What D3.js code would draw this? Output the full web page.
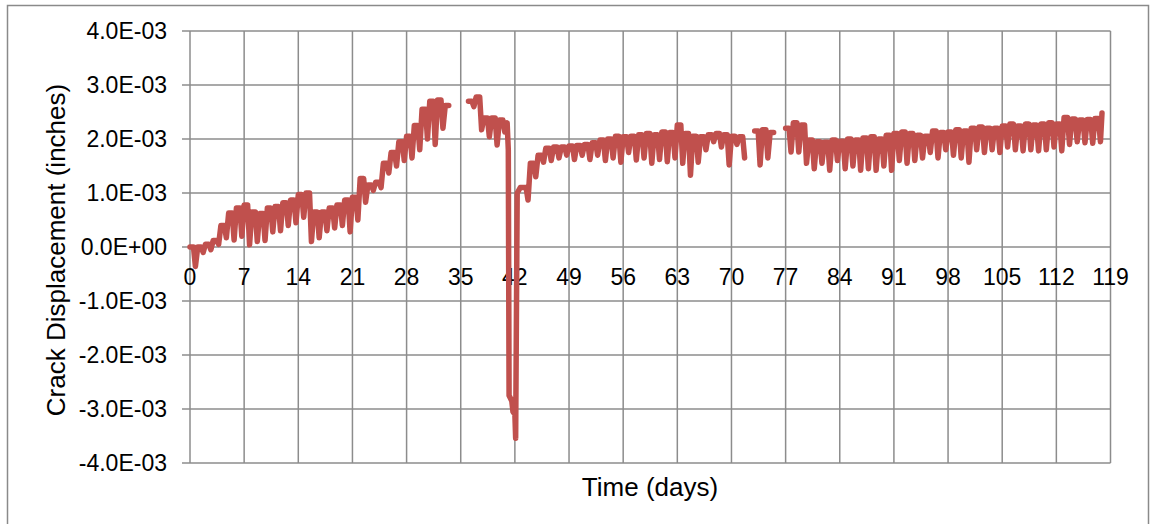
<!DOCTYPE html>
<html>
<head>
<meta charset="utf-8">
<script src="https://cdn.jsdelivr.net/npm/d3@7"></script>
<style>
  html, body { margin: 0; padding: 0; background: #fff; }
  svg { display: block; font-family: "Liberation Sans", Arial, Helvetica, sans-serif; }
</style>
</head>
<body>
<svg id="chart" width="1151" height="524"></svg>
<script>
// Crack displacement, thousandths of an inch. One peak and one trough per day (day 0 .. 117).
const dayPeak = [
  0.00, 0.00, 0.05, 0.12, 0.40, 0.63, 0.72, 0.78, 0.65, 0.62,
  0.72, 0.75, 0.82, 0.87, 0.97, 1.00, 0.65, 0.65, 0.72, 0.78,
  0.87, 0.92, 1.27, 1.15, 1.20, 1.55, 1.75, 1.95, 2.05, 2.25,
  2.55, 2.70, 2.72, 2.62, null, null, 2.70, 2.78, 2.39, 2.39,
  2.35, null, null, 1.10, 1.55, 1.70, 1.83, 1.85, 1.85, 1.87,
  1.88, 1.90, 1.93, 1.98, 2.00, 2.05, 2.04, 2.05, 2.08, 2.10,
  2.08, 2.13, 2.12, 2.26, 2.10, 2.05, 2.04, 2.08, 2.10, 2.08,
  2.05, 2.04, null, 2.15, 2.17, 2.12, null, 2.20, 2.30, 2.26,
  1.98, 1.95, 1.94, 1.98, 1.96, 2.00, 1.98, 2.02, 2.04, 2.00,
  2.07, 2.10, 2.13, 2.10, 2.07, 2.05, 2.15, 2.12, 2.13, 2.17,
  2.15, 2.20, 2.22, 2.20, 2.20, 2.24, 2.28, 2.24, 2.28, 2.26,
  2.28, 2.30, 2.28, 2.40, 2.37, 2.35, 2.36, 2.38
];
const dayTrough = [
  -0.36, -0.10, -0.05, 0.05, 0.17, 0.13, 0.20, 0.04, 0.10, 0.12,
  0.28, 0.30, 0.40, 0.45, 0.55, 0.10, 0.17, 0.30, 0.35, 0.40,
  0.28, 0.50, 0.83, 1.05, 1.10, 1.37, 1.50, 1.60, 1.65, 1.80,
  2.00, 1.90, 2.20, null, null, null, 2.60, 2.17, 2.04, 1.89,
  2.13, null, null, 0.87, 1.30, 1.57, 1.60, 1.65, 1.70, 1.62,
  1.70, 1.62, 1.70, 1.60, 1.65, 1.57, 1.75, 1.61, 1.65, 1.55,
  1.62, 1.58, 1.65, 1.55, 1.33, 1.57, 1.80, 1.95, 1.85, 1.52,
  1.90, 1.65, null, 1.52, 1.65, null, null, 1.76, 1.76, 1.55,
  1.45, 1.55, 1.42, 1.60, 1.45, 1.50, 1.42, 1.45, 1.42, 1.50,
  1.42, 1.60, 1.55, 1.60, 1.65, 1.75, 1.65, 1.80, 1.70, 1.65,
  1.57, 1.80, 1.75, 1.80, 1.75, 1.85, 1.80, 1.78, 1.80, 1.78,
  1.80, 1.85, 1.78, 1.90, 1.95, 1.93, 1.92, 1.95
];

// Sudden excursion between day 41 and day 43
const dropWindow = [41, 43];
const dropTime  = [41.0, 41.15, 41.25, 41.6, 41.75, 42.0, 42.1, 42.3, 42.7];
const dropValue = [2.30, 1.80, -2.75, -2.85, -3.05, -3.10, -3.54, 1.00, 1.10];

// Final reading
const lastTime = [117.9];
const lastValue = [2.48];

// Axis ticks
const xTicks = [0, 7, 14, 21, 28, 35, 42, 49, 56, 63, 70, 77, 84, 91, 98, 105, 112, 119];
const yTicks = [4, 3, 2, 1, 0, -1, -2, -3, -4];
const yTickLabels = ["4.0E-03", "3.0E-03", "2.0E-03", "1.0E-03", "0.0E+00",
                     "-1.0E-03", "-2.0E-03", "-3.0E-03", "-4.0E-03"];

const svg = d3.select("#chart");
const gridColor = "#8c8c8c";

const x = d3.scaleLinear().domain([0, 119]).range([190, 1110.5]);
const y = d3.scaleLinear().domain([-4, 4]).range([463, 31]);

// Outer frame
svg.append("rect")
  .attr("x", 7.5).attr("y", 5.5)
  .attr("width", 1141).attr("height", 540)
  .attr("fill", "none").attr("stroke", "#8a8a8a").attr("stroke-width", 1.5);

// Horizontal gridlines
svg.append("g").selectAll("line").data(yTicks).join("line")
  .attr("x1", x(0) - 8).attr("x2", x(119))
  .attr("y1", d => y(d)).attr("y2", d => y(d))
  .attr("stroke", gridColor).attr("stroke-width", 1.5);

// Vertical gridlines
svg.append("g").selectAll("line").data(xTicks).join("line")
  .attr("x1", d => x(d)).attr("x2", d => x(d))
  .attr("y1", y(4)).attr("y2", y(-4))
  .attr("stroke", gridColor).attr("stroke-width", 1.5);

// Y tick labels
svg.append("g").selectAll("text").data(yTicks).join("text")
  .attr("x", 167).attr("y", d => y(d) + 7.5)
  .attr("text-anchor", "end")
  .attr("font-size", 23).attr("fill", "#000")
  .text((d, i) => yTickLabels[i]);

// X tick labels, hanging below the zero line
svg.append("g").selectAll("text").data(xTicks).join("text")
  .attr("x", d => x(d)).attr("y", y(0) + 38)
  .attr("text-anchor", "middle")
  .attr("font-size", 23).attr("fill", "#000")
  .text(d => d);

// Axis titles
svg.append("text")
  .attr("x", 650).attr("y", 496)
  .attr("text-anchor", "middle").attr("font-size", 26).attr("fill", "#000")
  .text("Time (days)");

svg.append("text")
  .attr("transform", "translate(65,250) rotate(-90)")
  .attr("text-anchor", "middle").attr("font-size", 26).attr("fill", "#000")
  .text("Crack Displacement (inches)");

// Assemble the series
let pts = [];
dayPeak.forEach((p, d) => {
  if (d >= dropWindow[0] && d < dropWindow[1]) return;
  pts.push({ t: d, v: p });
  pts.push({ t: d + 0.45, v: p });
  pts.push({ t: d + 0.7, v: dayTrough[d] });
});
dropTime.forEach((t, i) => pts.push({ t: t, v: dropValue[i] }));
lastTime.forEach((t, i) => pts.push({ t: t, v: lastValue[i] }));
pts.sort((a, b) => a.t - b.t);

const line = d3.line()
  .defined(d => d.v !== null)
  .x(d => x(d.t))
  .y(d => y(d.v));

svg.append("path")
  .datum(pts)
  .attr("d", line)
  .attr("fill", "none")
  .attr("stroke", "#c0504d")
  .attr("stroke-width", 5.5)
  .attr("stroke-linejoin", "round")
  .attr("stroke-linecap", "round");
</script>
</body>
</html>
